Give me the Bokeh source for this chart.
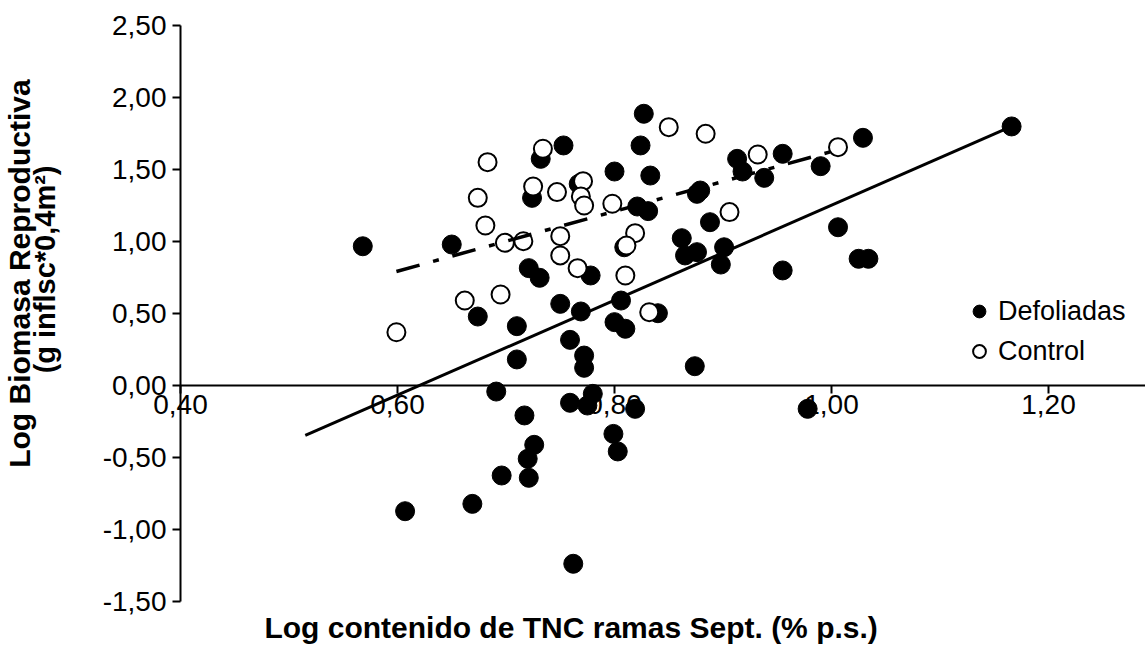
import math
from bokeh.plotting import figure
from bokeh.models import (LinearAxis, CustomJSTickFormatter, FixedTicker, Label,
                          Legend, LegendItem, Range1d)
from bokeh.embed import file_html
from bokeh.resources import INLINE

# ---- data ----
def_x = [0.568, 0.650, 0.732, 0.753, 0.724, 0.721, 0.731, 0.778, 0.800, 0.767,
         0.674, 0.710, 0.750, 0.769, 0.759, 0.710, 0.772, 0.772, 0.800, 0.691,
         0.759, 0.780, 0.775, 0.717, 0.726, 0.720, 0.696, 0.721, 0.669, 0.607,
         0.762, 0.827, 0.824, 0.833, 0.821, 0.831, 0.809, 0.913, 0.918, 0.955,
         0.938, 0.879, 0.876, 0.990, 1.029, 0.888, 0.862, 0.865, 0.876, 0.901,
         0.898, 0.955, 1.006, 1.025, 1.034, 1.166, 0.806, 0.810, 0.840, 0.874,
         0.819, 0.978, 0.799, 0.803]
def_y = [0.967, 0.979, 1.574, 1.667, 1.303, 0.815, 0.748, 0.764, 1.486, 1.400,
         0.479, 0.412, 0.567, 0.514, 0.317, 0.181, 0.208, 0.123, 0.440, -0.042,
         -0.120, -0.058, -0.139, -0.208, -0.412, -0.509, -0.625, -0.641, -0.822, -0.873,
         -1.238, 1.887, 1.667, 1.458, 1.243, 1.211, 0.960, 1.574, 1.486, 1.609,
         1.442, 1.354, 1.331, 1.523, 1.720, 1.134, 1.023, 0.903, 0.926, 0.960,
         0.840, 0.799, 1.099, 0.880, 0.880, 1.799, 0.590, 0.394, 0.502, 0.134,
         -0.162, -0.162, -0.336, -0.458]

ctrl_x = [0.683, 0.674, 0.681, 0.699, 0.716, 0.734, 0.725, 0.747, 0.771, 0.769,
          0.772, 0.798, 0.750, 0.750, 0.766, 0.662, 0.695, 0.599, 0.850, 0.884,
          0.819, 0.811, 0.810, 0.932, 1.006, 0.906, 0.832]
ctrl_y = [1.551, 1.303, 1.111, 0.991, 1.002, 1.644, 1.382, 1.343, 1.419, 1.313,
          1.250, 1.262, 1.037, 0.903, 0.815, 0.590, 0.632, 0.370, 1.794, 1.748,
          1.058, 0.972, 0.764, 1.604, 1.655, 1.204, 0.509]

fit_def_x = [0.515, 1.166]
fit_def_y = [-0.347, 1.799]
fit_ctrl_x = [0.599, 1.006]
fit_ctrl_y = [0.792, 1.637]

x_ticks = [0.4, 0.6, 0.8, 1.0, 1.2]
y_ticks = [-1.5, -1.0, -0.5, 0.0, 0.5, 1.0, 1.5, 2.0, 2.5]

x_label = "Log contenido de TNC ramas Sept. (% p.s.)"
y_label1 = "Log Biomasa  Reproductiva"
y_label2 = "(g inflsc*0,4m\u00b2)"

FONT = "Liberation Sans"
fmt = CustomJSTickFormatter(code="return tick.toFixed(2).replace('.', ',');")

# frame fills the whole canvas; axes are fixed at x=0.40 and y=0
p = figure(width=1145, height=646, x_range=Range1d(0.2341, 1.2894),
           y_range=Range1d(-1.8125, 2.6736),
           output_backend="svg", toolbar_location=None, x_axis_type=None, y_axis_type=None,
           min_border_left=0, min_border_right=0, min_border_top=0, min_border_bottom=0)
p.outline_line_color = None
p.grid.visible = False
p.background_fill_color = "white"


def style_axis(ax, standoff):
    ax.axis_line_width = 2
    ax.major_tick_line_width = 2
    ax.major_tick_in = 0
    ax.major_tick_out = 8
    ax.minor_tick_line_color = None
    ax.major_label_standoff = standoff
    ax.major_label_text_font = FONT
    ax.major_label_text_font_size = "28px"
    ax.major_label_text_color = "black"


ya = LinearAxis(fixed_location=0.4, bounds=(-1.5, 2.5), ticker=FixedTicker(ticks=y_ticks),
                formatter=fmt)
style_axis(ya, 6)
p.add_layout(ya, "left")

xa = LinearAxis(fixed_location=0, bounds=(0.4, 1.2894), ticker=FixedTicker(ticks=x_ticks),
                formatter=fmt)
style_axis(xa, 2)
p.add_layout(xa, "below")

r_def = p.scatter(def_x, def_y, marker="circle", size=19, fill_color="black", line_color="black")
r_ctrl = p.scatter(ctrl_x, ctrl_y, marker="circle", size=18, fill_color="white",
                   line_color="black", line_width=2)

p.line(fit_def_x, fit_def_y, line_color="black", line_width=3)
p.line(fit_ctrl_x, fit_ctrl_y, line_color="black", line_width=3.5, line_dash="24 14 6 14")

legend = Legend(items=[LegendItem(label="Defoliadas", renderers=[r_def]),
                       LegendItem(label="Control", renderers=[r_ctrl])],
                location=(963, 279), glyph_width=32, glyph_height=32, spacing=8,
                padding=0, margin=0, border_line_color=None, background_fill_alpha=0,
                label_standoff=3, label_text_font=FONT, label_text_font_size="27px",
                label_text_color="black")
p.add_layout(legend)

p.add_layout(Label(x=0.760, y=-1.680, text=x_label, text_align="center", text_baseline="middle",
                   text_font=FONT, text_font_style="bold", text_font_size="30px",
                   text_color="black"))
p.add_layout(Label(x=0.2518, y=0.806, text=y_label1, angle=math.pi / 2, text_align="center",
                   text_baseline="middle", text_font=FONT, text_font_style="bold",
                   text_font_size="30px", text_color="black"))
p.add_layout(Label(x=0.2747, y=0.806, text=y_label2, angle=math.pi / 2, text_align="center",
                   text_baseline="middle", text_font=FONT, text_font_style="bold",
                   text_font_size="29px", text_color="black"))

open("out.html", "w").write(file_html(p, INLINE))
